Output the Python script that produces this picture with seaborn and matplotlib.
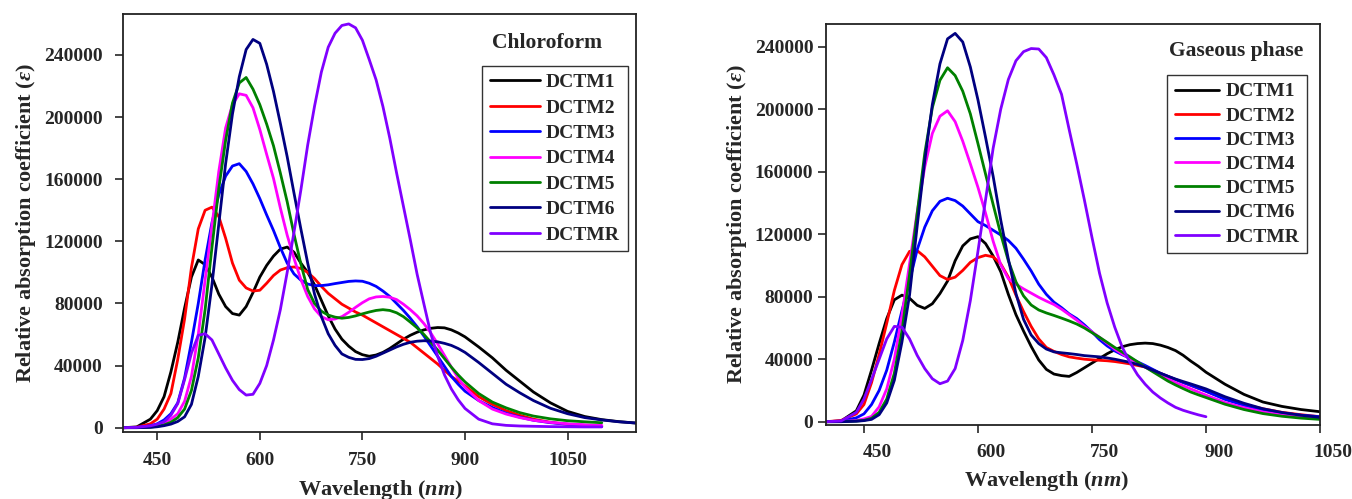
import numpy as np
import pandas as pd
import matplotlib
matplotlib.use("Agg")
import matplotlib.pyplot as plt
import matplotlib.transforms as mtransforms
import seaborn as sns

nan = np.nan

# ---- Chloroform panel (left) ----
WL_CHL = [400, 420, 440, 450, 460, 470, 480, 490, 500, 510, 520, 530, 540, 550, 560, 570,
          580, 590, 600, 610, 620, 630, 640, 650, 660, 670, 680, 690, 700, 710, 720, 730,
          740, 750, 760, 770, 780, 790, 800, 810, 820, 830, 840, 850, 860, 870, 880, 890,
          900, 920, 940, 960, 980, 1000, 1025, 1050, 1075, 1100, 1125, 1150]
CHL_DCTM1 = [0, 500, 5500, 11000, 20000, 36000, 55000, 77000, 97000, 108000, 105000, 97000,
             86000, 78000, 73500, 72500, 78000, 87000, 97000, 104500, 110500, 115000, 116300,
             113000, 106000, 100000, 92000, 82000, 72000,
             63500, 57000, 52500, 49000, 47000, 46000, 46800, 48500, 51000, 54000, 57000,
             59500, 61500, 63000, 64000, 64500, 64300, 63000, 61000, 58500,
             52000, 45000, 37000, 30000, 23000, 16000, 10500, 7200, 5200, 3900, 3000]
CHL_DCTM2 = [0, 300, 2500, 5500, 12000, 22000, 44000, 70000, 103000, 128000, 140000, 142000,
             136000, 122000, 106000, 95000, 90000, 88000, 88500, 93000, 98000, 101500, 103000,
             103500, 102500, 100000, 96000, 91000, 86500,
             83000, 79500, 77000, 74500, 72500, 70000, 67500, 65000, 62500, 60000, 57500,
             55000, 51500, 48000, 44500, 41000, 37000, 33000, 30000, 27000,
             20000, 15000, 11000, 8000, 5500, 3500, 2200, 1500, 1000, nan, nan]
CHL_DCTM3 = [0, 200, 1200, 2500, 5000, 9000, 16000, 32000, 55000, 80000, 108000, 132000,
             150000, 162000, 168500, 170000, 165000, 157000, 147500, 137000, 127000, 116000,
             106000, 99000, 95000, 92500, 91500, 91500, 92000,
             92800, 93500, 94200, 94500, 94300, 93000, 91000, 88000, 84500, 80000, 75500,
             70500, 65000, 59000, 52500, 46000, 39500, 33000, 28000, 23500,
             17500, 13000, 9300, 6800, 4800, 3200, 2200, 1500, 1000, nan, nan]
CHL_DCTM4 = [0, 100, 700, 1500, 3000, 5500, 9000, 17000, 33000, 60000, 95000, 130000,
             165000, 193000, 208000, 215000, 214000, 206000, 192000, 176000, 160500, 141500,
             124000, 109000, 95500, 84500, 76500, 71500, 69500,
             70000, 71500, 74300, 77500, 80500, 83000, 84200, 84500, 84000, 82500, 79500,
             76000, 72000, 67000, 61000, 54000, 46500, 39000, 32000, 26000,
             17500, 12000, 8800, 6500, 4800, 3400, 2500, 1900, 1500, nan, nan]
CHL_DCTM5 = [0, 50, 400, 900, 1800, 3500, 6500, 12000, 24000, 45000, 76000, 116000, 154000,
             185000, 209000, 222000, 225500, 218000, 208000, 195500, 181500, 164000, 145500,
             124500, 105500, 89000, 80000, 75000, 72500,
             71200, 70500, 71000, 72000, 73300, 74500, 75500, 76000, 75500, 74000, 71500,
             68000, 64300, 60000, 55000, 50000, 44500, 39000, 34000, 29500,
             22000, 16500, 12800, 9700, 7500, 5700, 4500, 3800, 3200, nan, nan]
CHL_DCTM6 = [0, 0, 200, 600, 1300, 2300, 4000, 7000, 15000, 33000, 58000, 92000, 131000,
             170000, 202000, 226000, 243500, 250000, 247500, 234000, 216500, 196000, 174500,
             151000, 128000, 106000, 86000, 71500, 60500,
             53000, 47500, 45300, 44000, 43900, 44500, 46000, 48000, 50000, 52000, 53700,
             55000, 55700, 56000, 55800, 55300, 54300, 53000, 51000, 48500,
             42000, 35000, 28000, 22500, 17500, 12500, 9000, 6500, 5000, 3800, 3000]
CHL_DCTMR = [0, 200, 1200, 2300, 3800, 8000, 15500, 31000, 48000, 59500, 60500, 56500,
             47500, 38500, 30500, 24500, 21000, 21500, 28500, 40000, 56500, 76000, 100000,
             126000, 153000, 182000, 207000, 229000, 245000,
             254000, 259000, 260000, 257500, 249500, 237000, 224000, 206800, 186500, 164000,
             142500, 121000, 98800, 79500, 60500, 46000, 34000, 25000, 18000, 12400,
             5500, 2500, 1500, 1100, 900, 700, 600, 500, 500, nan, nan]

# ---- Gaseous phase panel (right) ----
WL_GAS = [400, 420, 440, 450, 460, 470, 480, 490, 500, 510, 520, 530, 540, 550, 560, 570,
          580, 590, 600, 610, 620, 630, 640, 650, 660, 670, 680, 690, 700, 710, 720, 730,
          740, 750, 760, 770, 780, 790, 800, 810, 820, 830, 840, 850, 860, 870, 880, 890,
          900, 925, 950, 975, 1000, 1025, 1050]
GAS_DCTM1 = [0, 500, 7000, 17000, 33000, 50000, 66000, 78000, 81000, 79000, 74500, 72500,
             75500, 82000, 90000, 103000, 112500, 117000, 118400, 114000, 106000, 96000,
             81500, 68500, 58000, 48200, 39500, 33500, 30500,
             29500, 29000, 31500, 34500, 37500, 40500, 43500, 46000, 48000, 49300, 50000,
             50300, 50000, 49000, 47500, 45500, 42500, 38800, 35500, 31700,
             24000, 17500, 12600, 9800, 7800, 6400]
GAS_DCTM2 = [0, 800, 5000, 11000, 25000, 43000, 63000, 84000, 100500, 109000, 109500,
             105500, 99500, 93500, 91000, 92500, 96800, 102000, 105000, 106500, 105500,
             101000, 92500, 81000, 70500, 61000, 53000, 47500, 45000,
             43000, 41500, 40700, 40000, 39600, 39300, 39000, 38500, 37800, 37000, 36000,
             35000, 33000, 31000, 29000, 27000, 25100, 23300, 21400, 19500,
             14800, 11000, 8300, 6000, 4500, 3200]
GAS_DCTM3 = [0, 300, 2500, 5000, 11000, 20000, 33000, 51000, 71000, 90000, 110000, 124500,
             135000, 141000, 143000, 141500, 138000, 133000, 128000, 125500, 122500, 119500,
             116000, 111000, 104000, 96500, 88000, 81500, 76500,
             73000, 69000, 66000, 62000, 57500, 52500, 48500, 45300, 42800, 40600, 38300,
             36000, 33500, 31000, 29000, 27000, 25100, 23300, 21400, 19500,
             14300, 10500, 7500, 5500, 4200, 3200]
GAS_DCTM4 = [0, 100, 800, 1800, 3400, 9500, 21000, 40000, 68000, 101000, 134000, 163000,
             184500, 195500, 199000, 192000, 179500, 165000, 150000, 133500, 115500, 100500,
             91500, 88000, 85000, 82300, 79600, 77200, 75000,
             72000, 68500, 65000, 61000, 57500, 54000, 50200, 46500, 43300, 40500, 37700,
             35000, 32500, 30000, 27500, 25000, 23000, 21000, 19000, 17000,
             12300, 9000, 6200, 4300, 3000, 2100]
GAS_DCTM5 = [0, 50, 400, 900, 2200, 6000, 14500, 31000, 58000, 94000, 133000, 171700,
             201000, 218500, 226500, 221500, 211500, 197000, 178000, 158500, 139000, 120000,
             103000, 89500, 80500, 74700, 71500, 69600, 68000,
             66300, 64500, 62500, 60000, 57000, 54000, 50800, 47500, 44500, 41500, 38300,
             35000, 32000, 29000, 26000, 23500, 21200, 19000, 17200, 15500,
             11200, 7800, 5200, 3500, 2300, 1500]
GAS_DCTM6 = [0, 0, 300, 700, 1500, 4500, 12000, 26500, 51000, 81000, 125000, 167000,
             203000, 229000, 245000, 248500, 243000, 227000, 206000, 182000, 157000, 129000,
             104000, 82000, 65500, 55500, 50000, 46500, 44700,
             44100, 43600, 43000, 42300, 41900, 41500, 40800, 40000, 39000, 38000, 36600,
             35000, 33000, 31000, 29100, 27300, 25700, 24200, 22600, 21000,
             16000, 11800, 8300, 5900, 4100, 2800]
GAS_DCTMR = [0, 500, 6000, 14500, 27000, 40000, 53000, 61000, 60500, 53000, 42500, 34000,
             27500, 24300, 26000, 34000, 52000, 77500, 109000, 142000, 175000, 200000,
             219000, 231000, 236800, 238800, 238500, 233000, 222000,
             209500, 187000, 165000, 142000, 118000, 95000, 76000, 60500, 47500, 38000,
             30000, 24000, 19000, 15200, 12000, 9200, 7300, 5800, 4400, 3200,
             nan, nan, nan, nan, nan, nan]

SERIES = ["DCTM1", "DCTM2", "DCTM3", "DCTM4", "DCTM5", "DCTM6", "DCTMR"]
COLORS = {"DCTM1": "#000000", "DCTM2": "#ff0000", "DCTM3": "#0000ff", "DCTM4": "#ff00ff",
          "DCTM5": "#008000", "DCTM6": "#000080", "DCTMR": "#8000ff"}
X_TICKS = [450, 600, 750, 900, 1050]
Y_TICKS = [0, 40000, 80000, 120000, 160000, 200000, 240000]


def to_long(wl, cols):
    frames = [pd.DataFrame({"wl": wl, "eps": vals, "series": name})
              for name, vals in zip(SERIES, cols)]
    return pd.concat(frames, ignore_index=True).dropna()


sns.set_style("ticks")
plt.rcParams["font.family"] = ["Liberation Serif", "DejaVu Serif"]
plt.rcParams["font.weight"] = "bold"
plt.rcParams["mathtext.fontset"] = "custom"
plt.rcParams["mathtext.rm"] = "Liberation Serif:bold"
plt.rcParams["mathtext.it"] = "Liberation Serif:italic:bold"
plt.rcParams["lines.solid_joinstyle"] = "round"

fig = plt.figure(figsize=(13.52, 4.99), dpi=100)
ax1 = fig.add_axes([0.0910, 0.1343, 0.3794, 0.8377])
ax2 = fig.add_axes([0.6109, 0.1483, 0.3654, 0.8036])

# per-panel layout: title pos, legend anchor, label coords, tick pads, legend spacing
panels = [
    dict(ax=ax1, df=to_long(WL_CHL, [CHL_DCTM1, CHL_DCTM2, CHL_DCTM3, CHL_DCTM4, CHL_DCTM5,
                                     CHL_DCTM6, CHL_DCTMR]),
         title="Chloroform", xlim=(400, 1150), ylim=(-2760, 266400),
         title_xy=(0.8265, 0.9306), leg_xy=(0.984, 0.876), xl_xy=(0.501, -0.109),
         yl_xy=(-0.166, 0.5), xpad=9, ypad=9, ls=0.40, hl=2.6, xshift=0),
    dict(ax=ax2, df=to_long(WL_GAS, [GAS_DCTM1, GAS_DCTM2, GAS_DCTM3, GAS_DCTM4, GAS_DCTM5,
                                     GAS_DCTM6, GAS_DCTMR]),
         title="Gaseous phase", xlim=(400, 1050), ylim=(-2100, 254500),
         title_xy=(0.830, 0.9334), leg_xy=(0.9737, 0.873), xl_xy=(0.447, -0.11),
         yl_xy=(-0.156, 0.5), xpad=8, ypad=3.5, ls=0.34, hl=2.3, xshift=0.13),
]

for p in panels:
    ax = p["ax"]
    sns.lineplot(data=p["df"], x="wl", y="eps", hue="series", hue_order=SERIES,
                 palette=COLORS, estimator=None, linewidth=2.0, ax=ax)
    ax.set_xlim(*p["xlim"])
    ax.set_ylim(*p["ylim"])
    ax.set_xticks(X_TICKS)
    ax.set_xticklabels([str(t) for t in X_TICKS])
    ax.set_yticks(Y_TICKS)
    ax.set_yticklabels([str(t) for t in Y_TICKS])
    ax.tick_params(direction="out", length=5.5, width=1.2, labelsize=14,
                   top=False, right=False)
    ax.tick_params(axis="x", pad=p["xpad"])
    ax.tick_params(axis="y", pad=p["ypad"])
    if p["xshift"]:
        offset = mtransforms.ScaledTranslation(p["xshift"], 0, fig.dpi_scale_trans)
        for lbl in ax.get_xticklabels():
            lbl.set_transform(lbl.get_transform() + offset)
    for sp in ax.spines.values():
        sp.set_visible(True)
        sp.set_linewidth(1.3)
        sp.set_color("#222222")

    ax.set_xlabel(r"Wavelength ($\mathit{nm}$)", fontsize=16, fontweight="bold")
    ax.set_ylabel(r"Relative absorption coefficient ($\mathit{\varepsilon}$)", fontsize=16,
                  fontweight="bold")
    ax.xaxis.set_label_coords(*p["xl_xy"])
    ax.yaxis.set_label_coords(*p["yl_xy"])

    handles, labels = ax.get_legend_handles_labels()
    leg = ax.legend(handles, labels, loc="upper right", bbox_to_anchor=p["leg_xy"],
                    frameon=True, fancybox=False, edgecolor="#333333", framealpha=1,
                    prop=dict(weight="bold", size=14), handlelength=p["hl"],
                    handletextpad=0.3, labelspacing=p["ls"], borderpad=0.4,
                    borderaxespad=0)
    leg.get_frame().set_linewidth(1.0)
    for ln in leg.get_lines():
        ln.set_linewidth(2.0)

    ax.text(p["title_xy"][0], p["title_xy"][1], p["title"], transform=ax.transAxes,
            ha="center", va="center", fontsize=15.5, fontweight="bold")

fig.savefig("out.png", dpi=100)
